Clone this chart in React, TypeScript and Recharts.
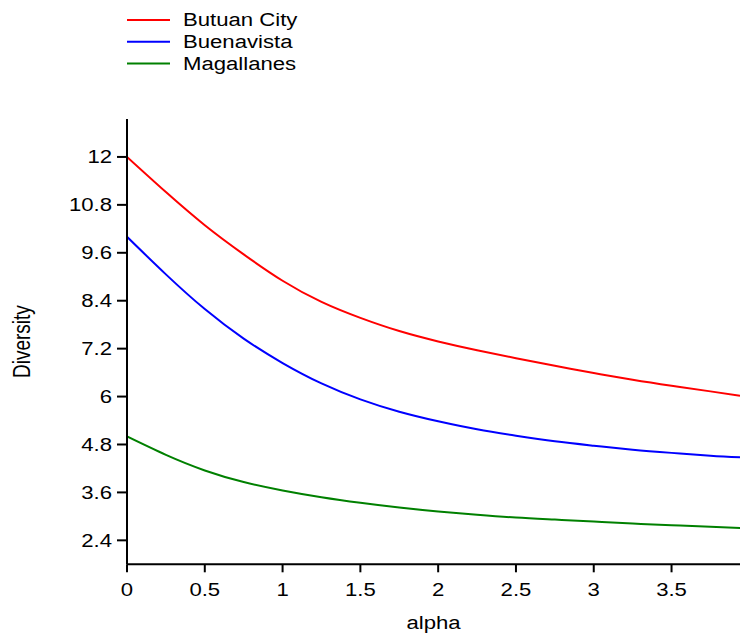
import React from 'react';
import { LineChart, Line, XAxis, YAxis, Legend, Label } from 'recharts';

const alphaValues = [0, 0.25, 0.5, 0.75, 1, 1.25, 1.5, 1.75, 2, 2.25, 2.5, 2.75, 3, 3.25, 3.5, 3.75, 3.94];
const butuanCity = [12.0, 11.12, 10.29, 9.56, 8.9, 8.37, 7.97, 7.64, 7.38, 7.16, 6.96, 6.77, 6.59, 6.42, 6.27, 6.13, 6.02];
const buenavista = [10.0, 9.06, 8.19, 7.45, 6.84, 6.33, 5.93, 5.62, 5.38, 5.18, 5.02, 4.88, 4.77, 4.67, 4.59, 4.52, 4.48];
const magallanes = [5.0, 4.54, 4.15, 3.86, 3.65, 3.48, 3.34, 3.22, 3.12, 3.04, 2.97, 2.92, 2.87, 2.82, 2.78, 2.74, 2.71];

const xTicks = [0, 0.5, 1, 1.5, 2, 2.5, 3, 3.5];
const yTicks = [2.4, 3.6, 4.8, 6, 7.2, 8.4, 9.6, 10.8, 12];

const seriesInfo = [
  { key: 'butuan', name: 'Butuan City', color: '#ff0000' },
  { key: 'buenavista', name: 'Buenavista', color: '#0000ff' },
  { key: 'magallanes', name: 'Magallanes', color: '#008000' },
];

const data = alphaValues.map((a, i) => ({
  alpha: a,
  butuan: butuanCity[i],
  buenavista: buenavista[i],
  magallanes: magallanes[i],
}));

const FONT = '"Liberation Sans", Arial, sans-serif';
const SX = 1.23;

const YTick = (props: any) => {
  const { x, y, payload } = props;
  return (
    <g transform={`translate(${x},${y})`}>
      <text transform={`scale(${SX},1)`} textAnchor="end" dy="0.36em" fontSize={18} fill="#000" fontFamily={FONT}>
        {payload.value}
      </text>
    </g>
  );
};

const XTick = (props: any) => {
  const { x, y, payload } = props;
  return (
    <g transform={`translate(${x},${y})`}>
      <text transform={`scale(${SX},1)`} textAnchor="middle" y={24} fontSize={18} fill="#000" fontFamily={FONT}>
        {payload.value}
      </text>
    </g>
  );
};

const XLabel = (props: any) => {
  const vb = props.viewBox || {};
  const cx = vb.x + vb.width / 2;
  const by = vb.y + 64.7;
  return (
    <g transform={`translate(${cx},${by})`}>
      <text transform={`scale(${SX},1)`} textAnchor="middle" fontSize={18} fill="#000" fontFamily={FONT}>
        alpha
      </text>
    </g>
  );
};

const YLabel = (props: any) => {
  const vb = props.viewBox || {};
  const cy = vb.y + vb.height / 2;
  return (
    <g transform={`translate(30,${cy}) scale(${SX},1) rotate(-90)`}>
      <text textAnchor="middle" fontSize={19} fill="#000" fontFamily={FONT}>
        Diversity
      </text>
    </g>
  );
};

const LegendContent = () => (
  <svg width={330} height={90} style={{ display: 'block' }}>
    {seriesInfo.map((s, i) => {
      const yy = 20 + i * 21.7;
      return (
        <g key={s.key}>
          <line x1={127} x2={170} y1={yy} y2={yy} stroke={s.color} strokeWidth={2} />
          <g transform={`translate(183,${yy})`}>
            <text transform={`scale(${SX},1)`} dy="0.36em" fontSize={18} fill="#000" fontFamily={FONT}>
              {s.name}
            </text>
          </g>
        </g>
      );
    })}
  </svg>
);

export default function App() {
  return (
    <div style={{ position: 'absolute', left: 0, top: 0, width: 740, height: 635, overflow: 'hidden' }}>
      <LineChart
        width={740}
        height={635}
        data={data}
        margin={{ top: 119, right: 0, bottom: 0, left: 0 }}
      >
        <XAxis
          dataKey="alpha"
          type="number"
          domain={[0, 3.94]}
          ticks={xTicks}
          allowDataOverflow
          height={70.7}
          tickSize={8}
          tickMargin={0}
          tick={<XTick />}
          axisLine={{ stroke: '#000', strokeWidth: 2 }}
          tickLine={{ stroke: '#000', strokeWidth: 2 }}
        >
          <Label content={<XLabel />} />
        </XAxis>
        <YAxis
          type="number"
          domain={[1.8, 12.95]}
          ticks={yTicks}
          allowDataOverflow
          width={127}
          tickSize={10}
          tickMargin={5}
          tick={<YTick />}
          axisLine={{ stroke: '#000', strokeWidth: 2 }}
          tickLine={{ stroke: '#000', strokeWidth: 2 }}
        >
          <Label content={<YLabel />} />
        </YAxis>
        <Legend
          layout="vertical"
          align="center"
          verticalAlign="middle"
          wrapperStyle={{ top: 0, left: 0, width: 330, height: 90 }}
          content={<LegendContent />}
        />
        {seriesInfo.map((s) => (
          <Line
            key={s.key}
            type="natural"
            dataKey={s.key}
            name={s.name}
            stroke={s.color}
            strokeWidth={2}
            dot={false}
            activeDot={false}
            isAnimationActive={false}
          />
        ))}
      </LineChart>
    </div>
  );
}
